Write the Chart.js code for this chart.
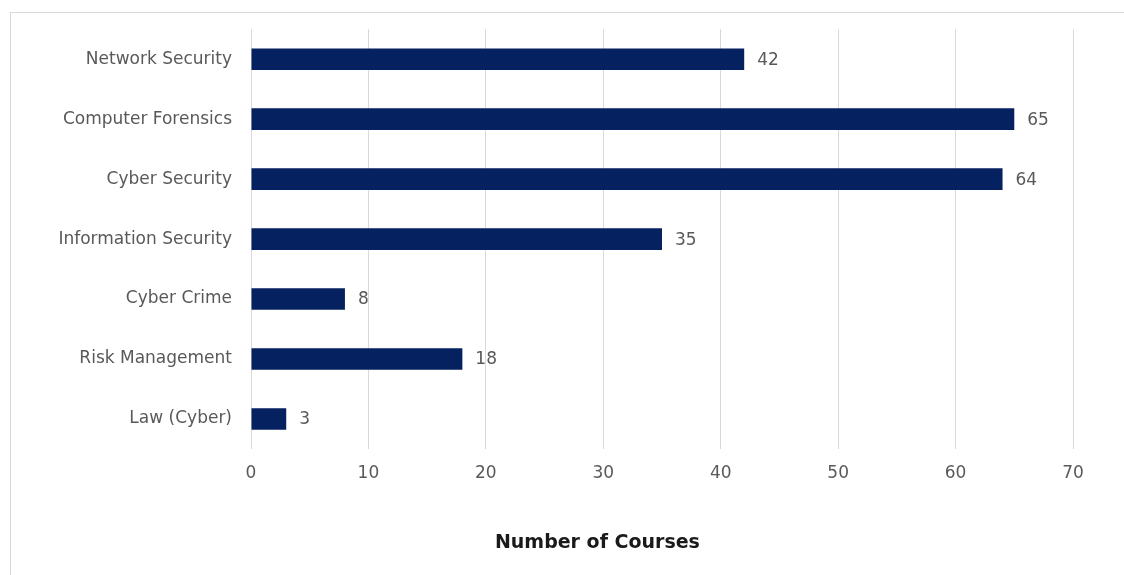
<!DOCTYPE html>
<html>
<head>
<meta charset="utf-8">
<script src="https://cdn.jsdelivr.net/npm/chart.js@4.4.0/dist/chart.umd.min.js"></script>
<style>
  html, body { margin: 0; padding: 0; background: #ffffff; }
  #marco { position: absolute; left: 10px; top: 12px; width: 1130px; height: 580px; border: 1px solid #d9d9d9; }
  #lienzo { position: absolute; left: 0; top: 0; }
</style>
</head>
<body>
<div id="marco"></div>
<canvas id="lienzo" width="1124" height="575"></canvas>
<script>
// Datos del gráfico
const categorias = ["Network Security", "Computer Forensics", "Cyber Security", "Information Security", "Cyber Crime", "Risk Management", "Law (Cyber)"];
const cursos = [42, 65, 64, 35, 8, 18, 3];
const ticksEjeX = [0, 10, 20, 30, 40, 50, 60, 70];
const tituloEjeX = "Number of Courses";

const fuente = "'DejaVu Sans', sans-serif";

// Etiquetas de valor al final de cada barra
const etiquetasValor = {
    id: "etiquetasValor",
    afterDatasetsDraw(chart) {
        const ctx = chart.ctx;
        const meta = chart.getDatasetMeta(0);
        ctx.save();
        ctx.font = "17px " + fuente;
        ctx.fillStyle = "#595959";
        ctx.textAlign = "left";
        ctx.textBaseline = "middle";
        meta.data.forEach((barra, i) => {
            ctx.fillText(String(cursos[i]), barra.x + 13, barra.y + 1);
        });
        ctx.restore();
    }
};

// Título del eje X (desplazado a la izquierda como en el original)
const tituloEje = {
    id: "tituloEje",
    afterDraw(chart) {
        const ctx = chart.ctx;
        const x = chart.scales.x.getPixelForValue(29.5);
        ctx.save();
        ctx.font = "bold 19px " + fuente;
        ctx.fillStyle = "#1a1a1a";
        ctx.textAlign = "center";
        ctx.textBaseline = "middle";
        ctx.fillText(tituloEjeX, x, 543);
        ctx.restore();
    }
};

const ctx = document.getElementById("lienzo").getContext("2d");
const grafico = new Chart(ctx, {
    type: "bar",
    data: {
        labels: categorias,
        datasets: [{
            data: cursos,
            backgroundColor: "#06215f",
            borderWidth: 0,
            barPercentage: 0.36,
            categoryPercentage: 1
        }]
    },
    options: {
        indexAxis: "y",
        responsive: false,
        animation: false,
        layout: { padding: { top: 29, right: 51, left: 0, bottom: 86 } },
        plugins: {
            legend: { display: false },
            tooltip: { enabled: false }
        },
        scales: {
            x: {
                min: 0,
                max: 70,
                afterFit: (s) => { s.height = 40; },
                afterBuildTicks: (s) => { s.ticks = ticksEjeX.map(v => ({ value: v })); },
                grid: { color: "#d9d9d9", drawTicks: false, lineWidth: 1 },
                border: { display: false },
                ticks: { padding: 14, color: "#595959", font: { family: fuente, size: 17 } }
            },
            y: {
                afterFit: (s) => { s.width = 251; },
                grid: { display: false, drawTicks: false },
                border: { display: false },
                ticks: { padding: 19, color: "#595959", font: { family: fuente, size: 17 } }
            }
        }
    },
    plugins: [etiquetasValor, tituloEje]
});
</script>
</body>
</html>
